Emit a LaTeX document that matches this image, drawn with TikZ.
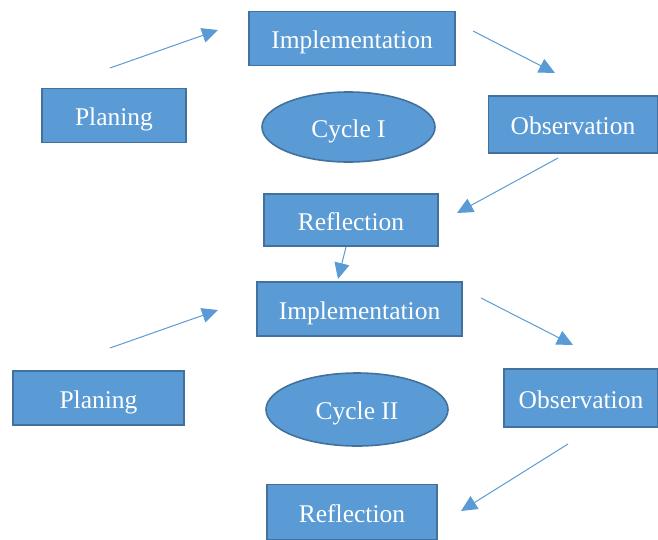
\documentclass[tikz,border=0pt]{standalone}
\usepackage{fontspec}
\setmainfont{Liberation Serif}
\usetikzlibrary{arrows.meta,shapes.geometric}
\definecolor{boxfill}{HTML}{5B9BD5}
\definecolor{boxline}{HTML}{41719C}
\begin{document}
\begin{tikzpicture}[x=1pt, y=-1pt,
  stage/.style={draw=boxline, fill=boxfill, line width=1.6pt, text=white, minimum height=54pt, inner sep=0pt,
    text height=22pt, text depth=2pt, font=\fontsize{25.5}{30}\selectfont},
  cycle/.style={stage, ellipse},
  flow/.style={boxfill, line width=1pt, -{Triangle[length=16pt,width=15pt]}}]
  \useasboundingbox (0,0) rectangle (658,539);
  \node[stage, minimum width=206pt] (I1) at (352,38.5) {Implementation};
  \node[stage, minimum width=144pt] (P1) at (114,115.5) {Planing};
  \node[cycle, minimum width=173pt, minimum height=70pt] (C1) at (348.5,127) {Cycle I};
  \node[stage, minimum width=169pt, minimum height=57pt] (O1) at (573,124.5) {Observation};
  \node[stage, minimum width=174pt, minimum height=52pt] (R1) at (351,220) {Reflection};
  \node[stage, minimum width=205pt] (I2) at (359.5,309) {Implementation};
  \node[stage, minimum width=171pt] (P2) at (98.5,398) {Planing};
  \node[cycle, minimum width=182pt, minimum height=73pt] (C2) at (357,409.5) {Cycle II};
  \node[stage, minimum width=154pt, minimum height=58pt] (O2) at (581,398) {Observation};
  \node[stage, minimum width=170pt, minimum height=55pt] (R2) at (352,512) {Reflection};
  \coordinate (a1) at (110,68);  \coordinate (b1) at (218,30);
  \coordinate (a2) at (473,31);  \coordinate (b2) at (555,73);
  \coordinate (a3) at (558,158); \coordinate (b3) at (457,213);
  \coordinate (a4) at (346,247); \coordinate (b4) at (338,279);
  \coordinate (a5) at (110,348); \coordinate (b5) at (218,310);
  \coordinate (a6) at (481,298); \coordinate (b6) at (573,345);
  \coordinate (a7) at (568,444); \coordinate (b7) at (461,511);
  \draw[flow] (a1) -- (b1);
  \draw[flow] (a2) -- (b2);
  \draw[flow] (a3) -- (b3);
  \draw[flow] (a4) -- (b4);
  \draw[flow] (a5) -- (b5);
  \draw[flow] (a6) -- (b6);
  \draw[flow] (a7) -- (b7);
\end{tikzpicture}
\end{document}
